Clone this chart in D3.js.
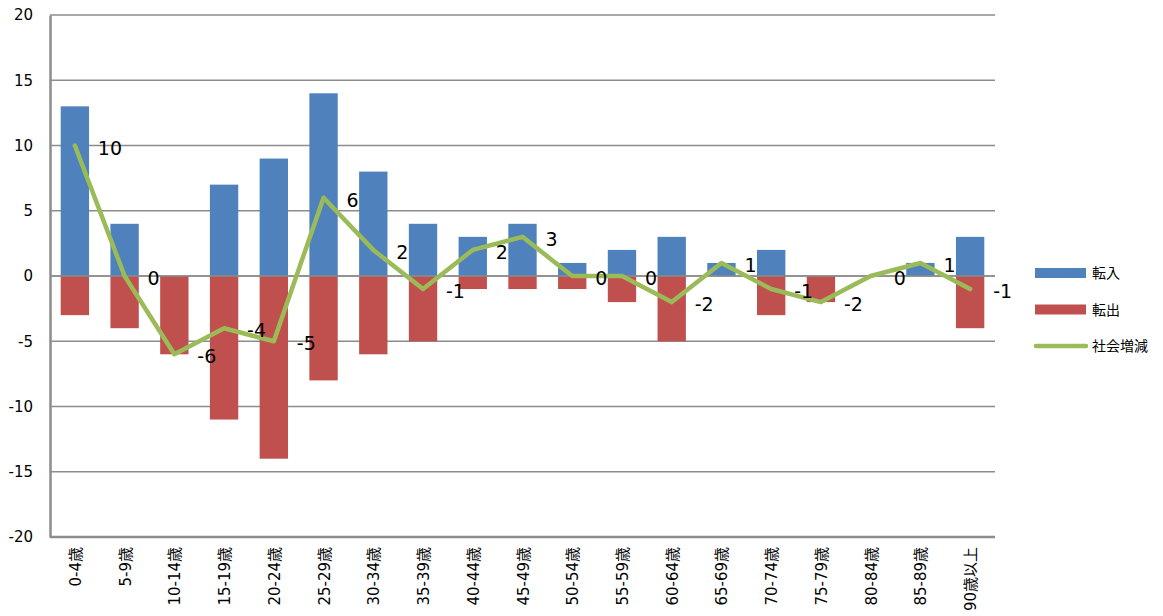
<!DOCTYPE html>
<html>
<head>
<meta charset="utf-8">
<script src="https://cdn.jsdelivr.net/npm/d3@7"></script>
<style>
  body { margin: 0; background: #fff; }
  svg { display: block; font-family: Verdana, "DejaVu Sans", "Noto Sans CJK JP", sans-serif; }
</style>
</head>
<body>
<div id="chart"></div>
<script>
// age groups and values
const ages = ["0-4歳","5-9歳","10-14歳","15-19歳","20-24歳","25-29歳","30-34歳","35-39歳","40-44歳","45-49歳",
              "50-54歳","55-59歳","60-64歳","65-69歳","70-74歳","75-79歳","80-84歳","85-89歳","90歳以上"];
const moveIn  = [13, 4, 0, 7, 9, 14, 8, 4, 3, 4, 1, 2, 3, 1, 2, 0, 0, 1, 3];
const moveOut = [-3, -4, -6, -11, -14, -8, -6, -5, -1, -1, -1, -2, -5, 0, -3, -2, 0, 0, -4];
const netChange = [10, 0, -6, -4, -5, 6, 2, -1, 2, 3, 0, 0, -2, 1, -1, -2, 0, 1, -1];
const yTicks = [-20, -15, -10, -5, 0, 5, 10, 15, 20];
const seriesNames = ["転入", "転出", "社会増減"];
const colors = {in: "#4F81BD", out: "#C0504D", net: "#9BBB59"};

const width = 1163, height = 616;
const margin = {top: 15, right: 168, bottom: 79, left: 50};

const svg = d3.select("#chart").append("svg")
    .attr("width", width).attr("height", height);

const x = d3.scaleBand()
    .domain(ages)
    .range([margin.left, width - margin.right])
    .paddingInner(0.43).paddingOuter(0.215);

const y = d3.scaleLinear()
    .domain([-20, 20])
    .range([height - margin.bottom, margin.top]);

// gridlines
svg.append("g")
    .selectAll("line")
    .data(yTicks)
    .join("line")
    .attr("x1", margin.left).attr("x2", width - margin.right)
    .attr("y1", d => y(d)).attr("y2", d => y(d))
    .attr("stroke", "#8c8c8c").attr("stroke-width", 1.5);

// y axis (plain hyphen for negatives)
const yAxis = svg.append("g")
    .attr("transform", `translate(${margin.left},0)`)
    .call(d3.axisLeft(y).tickValues(yTicks).tickSize(0).tickPadding(17).tickFormat(d => String(d)));
yAxis.select(".domain").attr("stroke", "#8c8c8c").attr("stroke-width", 2.5);
yAxis.selectAll("text").attr("font-size", 15).attr("fill", "#000")
    .attr("font-family", "Verdana, 'DejaVu Sans', sans-serif");

// bottom axis line at -20
svg.append("line")
    .attr("x1", margin.left).attr("x2", width - margin.right)
    .attr("y1", y(-20)).attr("y2", y(-20))
    .attr("stroke", "#8c8c8c").attr("stroke-width", 2.5);

// x labels rotated
svg.append("g")
    .selectAll("text")
    .data(ages)
    .join("text")
    .attr("transform", d => `translate(${x(d) + x.bandwidth() / 2 + 6},${y(-20) + 10}) rotate(-90)`)
    .attr("text-anchor", "end")
    .attr("font-size", 15)
    .attr("fill", "#000")
    .text(d => d);

// bars
svg.append("g")
    .selectAll("rect")
    .data(moveIn)
    .join("rect")
    .attr("x", (d, i) => x(ages[i]))
    .attr("width", x.bandwidth())
    .attr("y", d => y(d))
    .attr("height", d => y(0) - y(d))
    .attr("fill", colors.in);

svg.append("g")
    .selectAll("rect")
    .data(moveOut)
    .join("rect")
    .attr("x", (d, i) => x(ages[i]))
    .attr("width", x.bandwidth())
    .attr("y", y(0))
    .attr("height", d => y(d) - y(0))
    .attr("fill", colors.out);

// zero line on top of bars
svg.append("line")
    .attr("x1", margin.left).attr("x2", width - margin.right)
    .attr("y1", y(0)).attr("y2", y(0))
    .attr("stroke", "#8c8c8c").attr("stroke-width", 1.5);

// net line
const line = d3.line()
    .x((d, i) => x(ages[i]) + x.bandwidth() / 2)
    .y(d => y(d));

svg.append("path")
    .datum(netChange)
    .attr("fill", "none")
    .attr("stroke", colors.net)
    .attr("stroke-width", 4.5)
    .attr("stroke-linejoin", "round")
    .attr("stroke-linecap", "round")
    .attr("d", line);

// net labels
svg.append("g")
    .selectAll("text")
    .data(netChange)
    .join("text")
    .attr("x", (d, i) => x(ages[i]) + x.bandwidth() / 2 + 23)
    .attr("y", d => y(d) + 9)
    .attr("font-size", 19)
    .attr("fill", "#000")
    .attr("font-family", "Verdana, 'DejaVu Sans', sans-serif")
    .text(d => d);

// legend
const legend = svg.append("g").attr("transform", "translate(1035,273)");
const legendItems = legend.selectAll("g")
    .data(seriesNames)
    .join("g")
    .attr("transform", (d, i) => `translate(0,${i * 36.5})`);

legendItems.each(function(d, i) {
    const g = d3.select(this);
    if (i < 2) {
        g.append("rect").attr("x", 0).attr("y", -5).attr("width", 51).attr("height", 10)
            .attr("fill", i === 0 ? colors.in : colors.out);
    } else {
        g.append("line").attr("x1", 1).attr("x2", 51).attr("y1", 0).attr("y2", 0)
            .attr("stroke", colors.net).attr("stroke-width", 4.5).attr("stroke-linecap", "round");
    }
    g.append("text").attr("x", 57).attr("y", 5)
        .attr("font-size", 14).attr("fill", "#000")
        .attr("font-family", "'Noto Sans CJK JP', sans-serif")
        .text(d);
});
</script>
</body>
</html>
